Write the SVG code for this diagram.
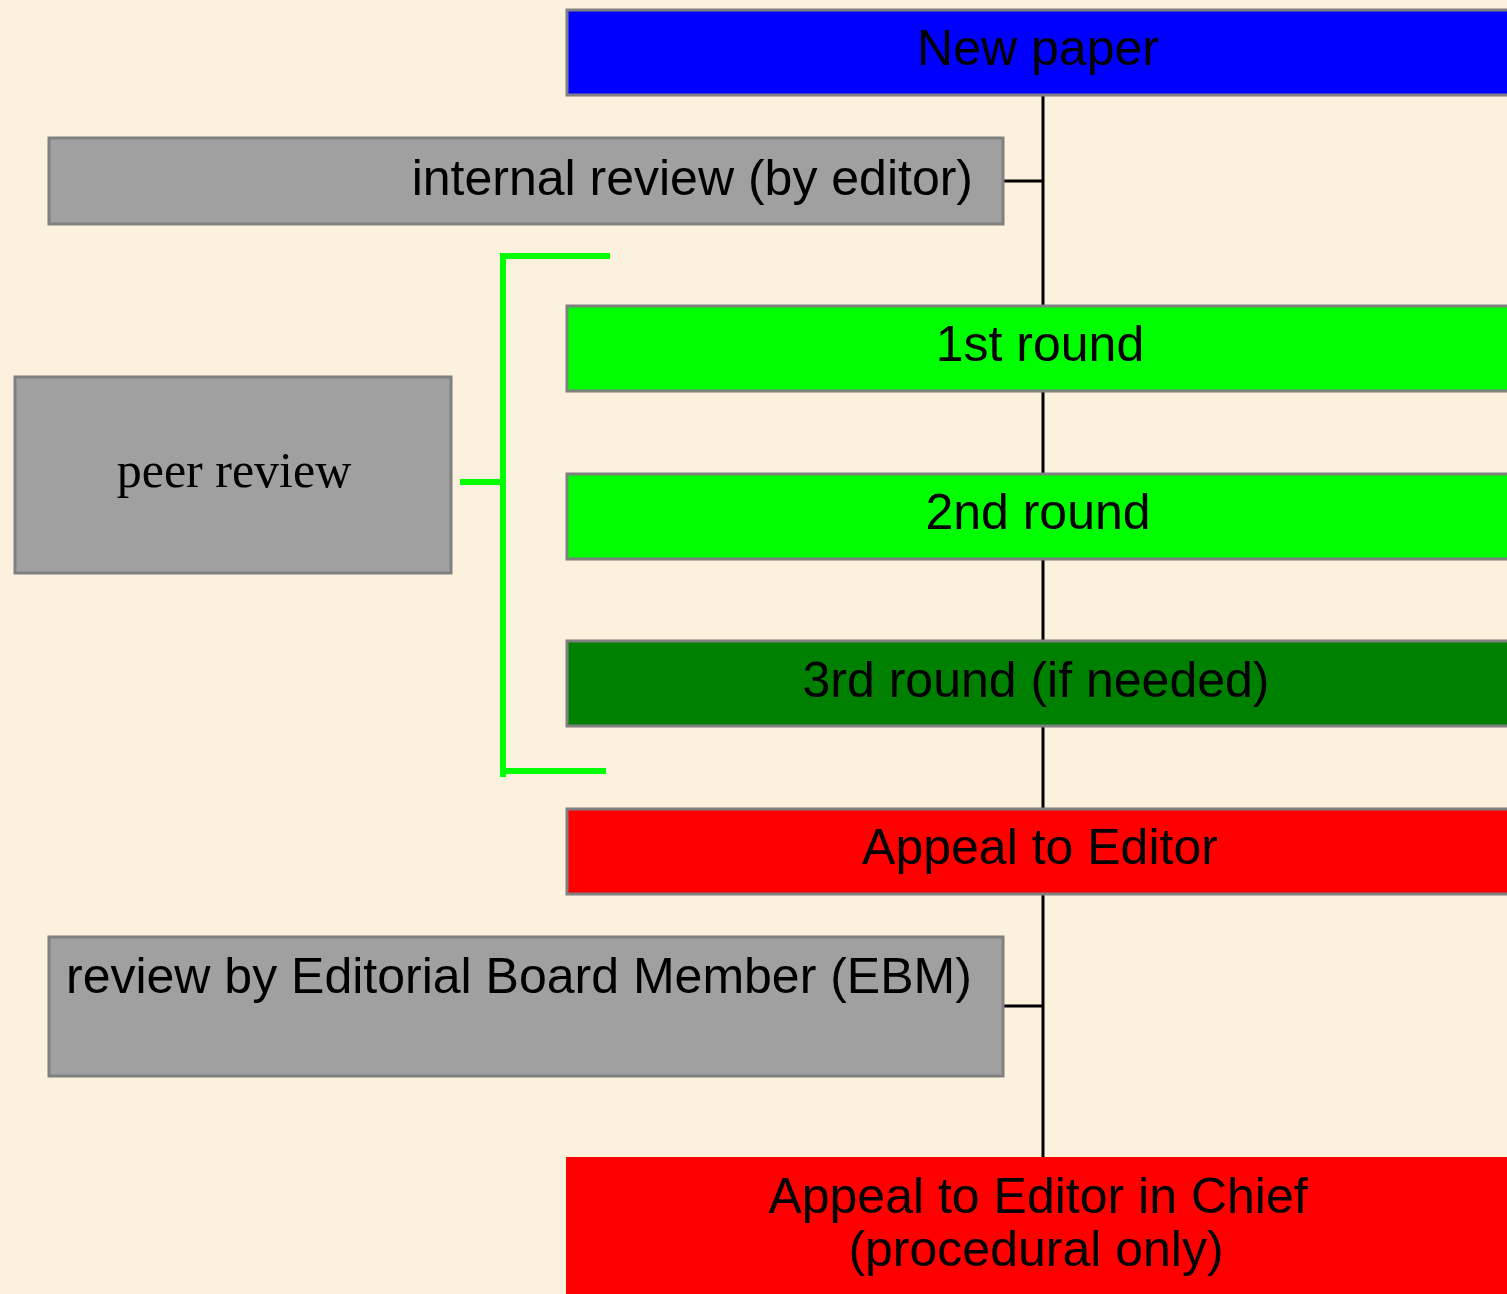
<svg xmlns="http://www.w3.org/2000/svg" width="1507" height="1294" viewBox="0 0 1507 1294">
<defs>
<style>
.box{stroke:#808080;stroke-width:3}
.t{font-family:"Liberation Sans",Arial,sans-serif;font-size:50px;fill:#000}
.s{font-family:"Liberation Serif","Times New Roman",serif;font-size:50px;fill:#000}
.c{stroke:#000;stroke-width:3;fill:none}
.g{stroke:#00ff00;stroke-width:6;fill:none}
</style>
</defs>
<rect x="0" y="0" width="1507" height="1294" fill="#fbf1dc"/>
<g id="connectors">
<line class="c" x1="1043" y1="95" x2="1043" y2="1160"/>
<line class="c" x1="1003" y1="181" x2="1043" y2="181"/>
<line class="c" x1="1003" y1="1006" x2="1043" y2="1006"/>
<polyline class="g" points="610,256 503,256 503,777"/>
<line class="g" x1="503" y1="771" x2="606" y2="771"/>
<line class="g" x1="460" y1="482" x2="503" y2="482"/>
</g>
<g id="new-paper">
<rect class="box" x="567" y="10" width="950" height="85" fill="#0000ff"/>
<text class="t" x="1038" y="65" text-anchor="middle">New paper</text>
</g>
<g id="internal-review">
<rect class="box" x="49" y="138" width="954" height="86" fill="#a0a0a0"/>
<text class="t" x="973" y="195" text-anchor="end">internal review (by editor)</text>
</g>
<g id="peer-review">
<rect class="box" x="15" y="377" width="436" height="196" fill="#a0a0a0"/>
<text class="s" x="234" y="487" text-anchor="middle">peer review</text>
</g>
<g id="round1">
<rect class="box" x="567" y="306" width="950" height="85" fill="#00ff00"/>
<text class="t" x="1040" y="361" text-anchor="middle">1st round</text>
</g>
<g id="round2">
<rect class="box" x="567" y="474" width="950" height="85" fill="#00ff00"/>
<text class="t" x="1038" y="529" text-anchor="middle">2nd round</text>
</g>
<g id="round3">
<rect class="box" x="567" y="641" width="950" height="85" fill="#008000"/>
<text class="t" x="1036" y="697" text-anchor="middle">3rd round (if needed)</text>
</g>
<g id="appeal-editor">
<rect class="box" x="567" y="809" width="950" height="85" fill="#ff0000"/>
<text class="t" x="1040" y="864" text-anchor="middle">Appeal to Editor</text>
</g>
<g id="ebm-review">
<rect class="box" x="49" y="937" width="954" height="139" fill="#a0a0a0"/>
<text class="t" x="66" y="993">review by Editorial Board Member (EBM)</text>
</g>
<g id="appeal-eic">
<rect x="566" y="1157" width="960" height="150" fill="#ff0000"/>
<text class="t" x="1038" y="1213" text-anchor="middle">Appeal to Editor in Chief</text>
<text class="t" x="1036" y="1266" text-anchor="middle">(procedural only)</text>
</g>
</svg>
